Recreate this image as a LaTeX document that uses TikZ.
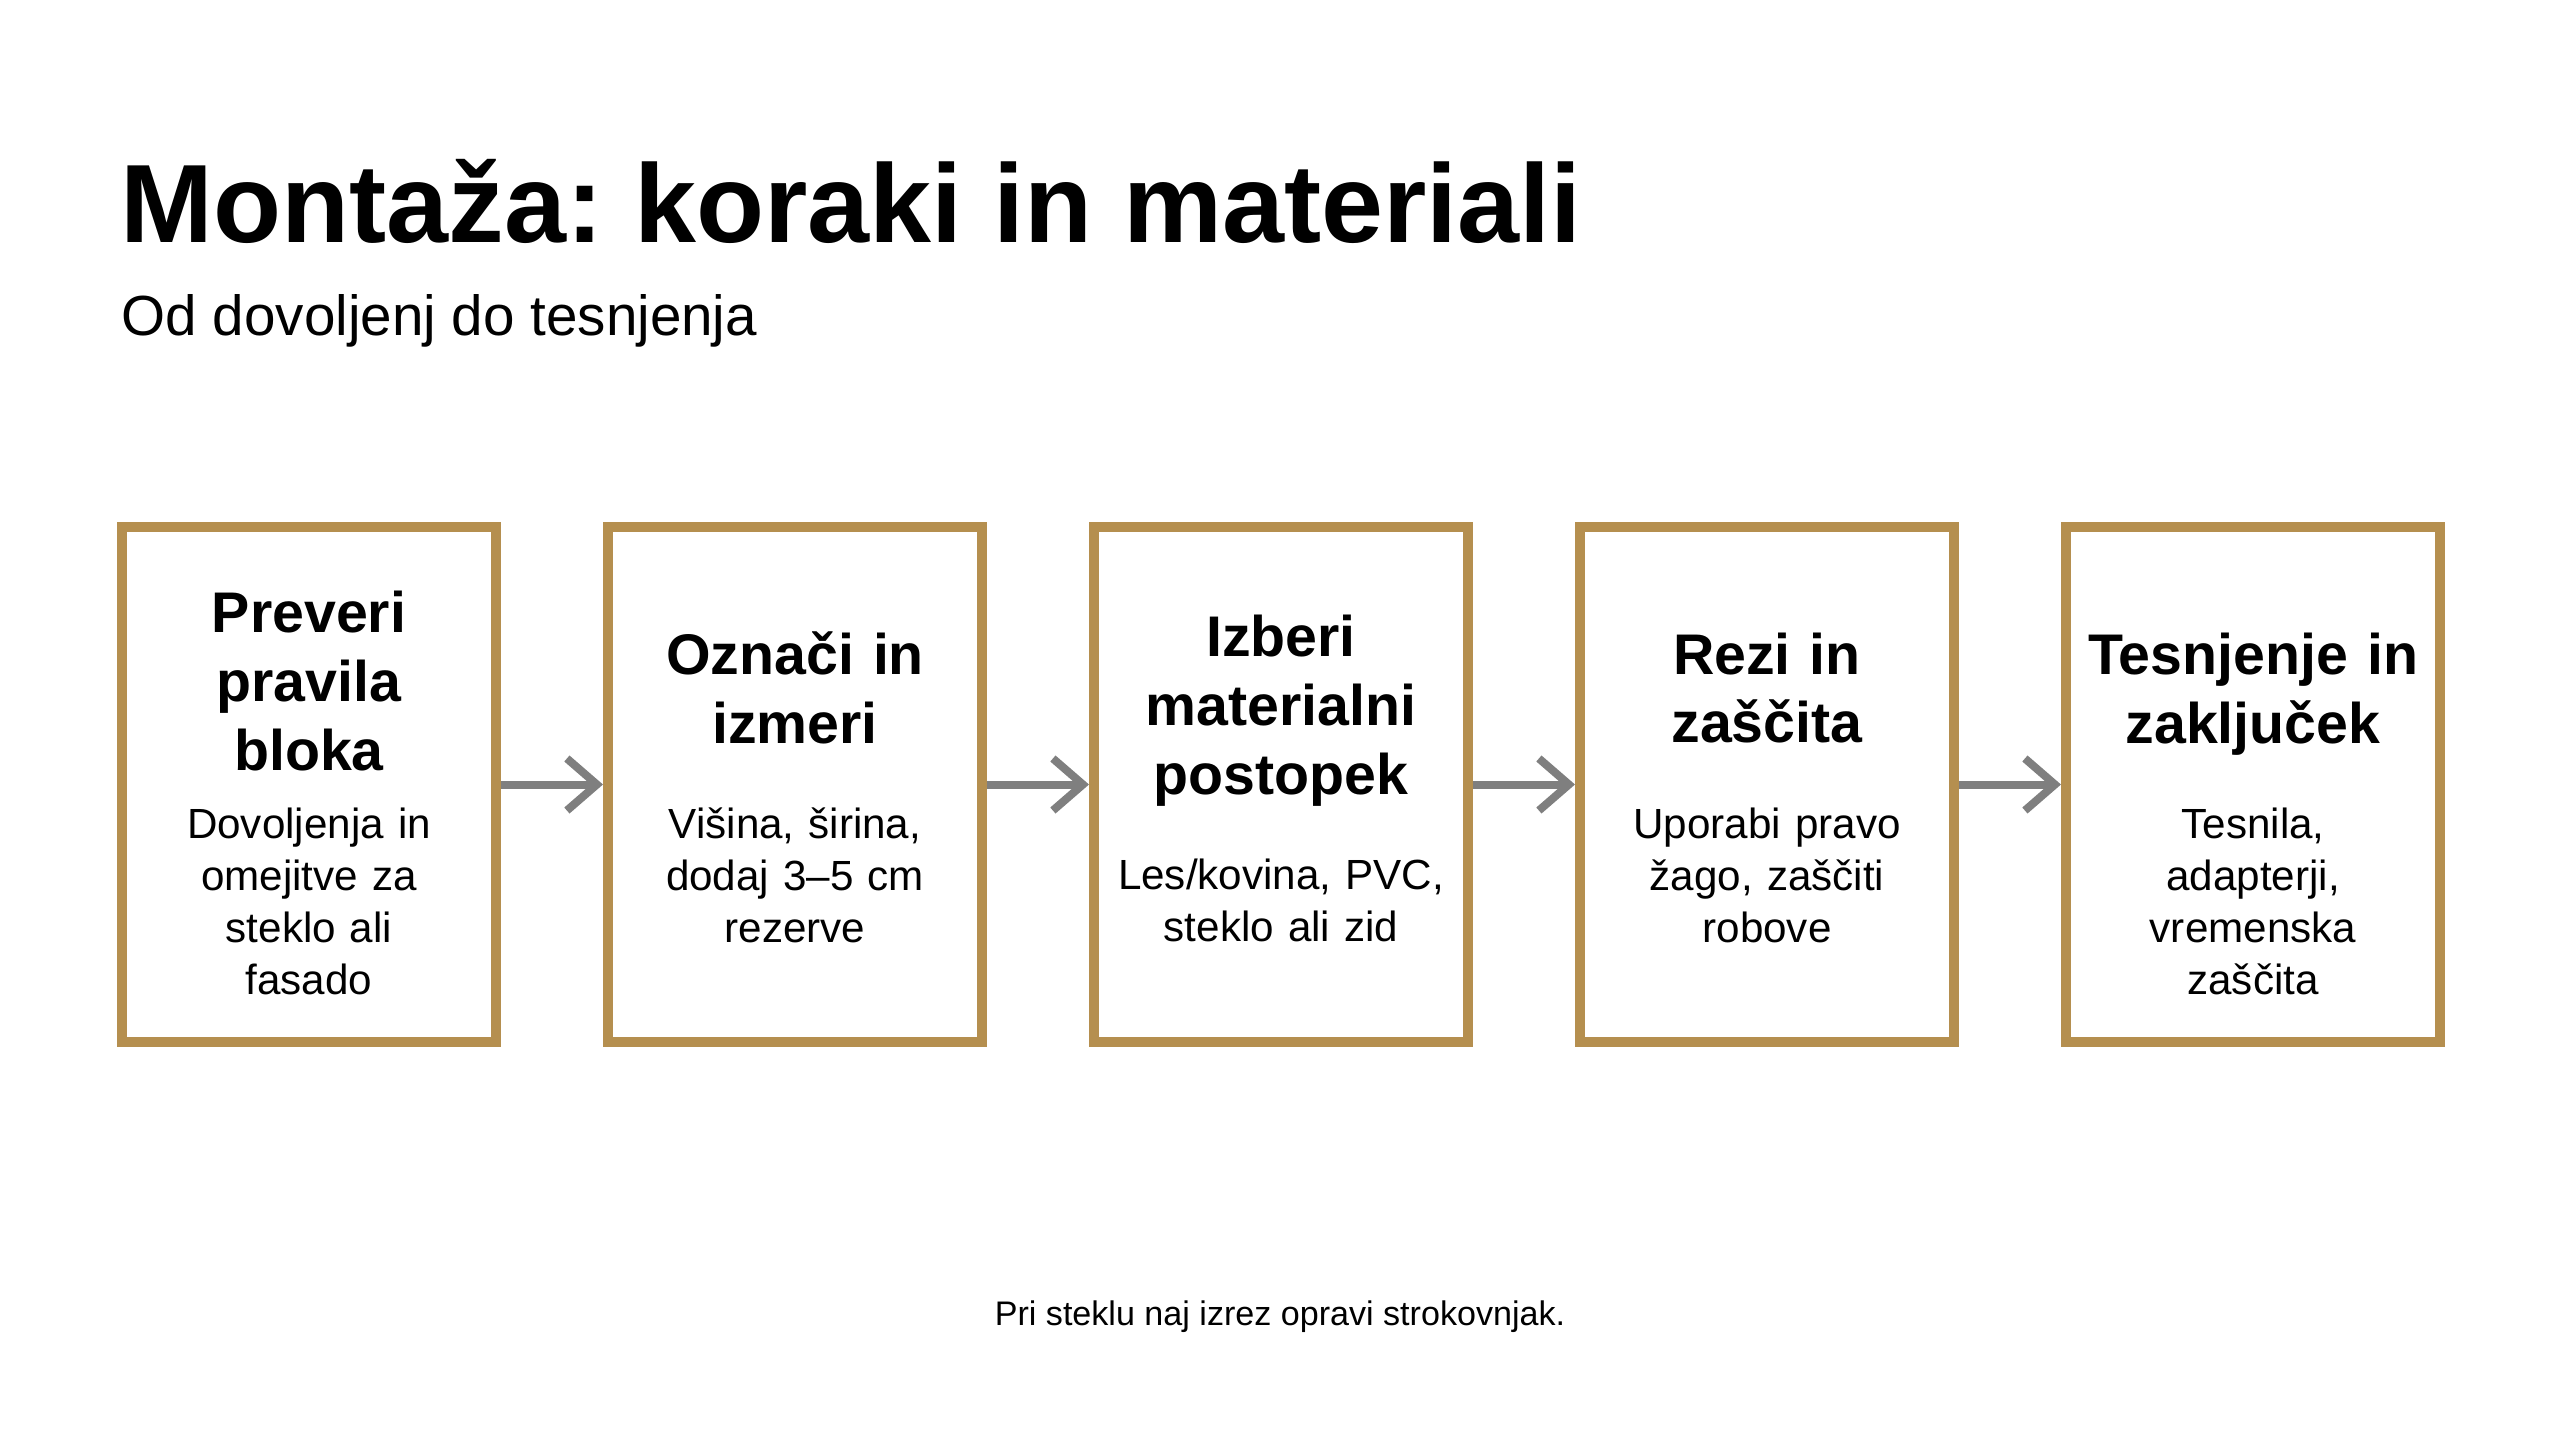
\documentclass[tikz,border=0pt]{standalone}
\usepackage{fontspec}
\setmainfont{Liberation Sans}
\usepackage{tikz}
\usetikzlibrary{arrows.meta}

\definecolor{gold}{HTML}{B58F4F}
\definecolor{arrowgray}{HTML}{7F7F7F}

\newcommand{\headfont}{\fontsize{16.3}{19.6}\selectfont\bfseries}
\newcommand{\bodyfont}{\fontsize{12}{14.8}\selectfont}
\frenchspacing

\tikzset{
    stepbox/.style={draw=gold, line width=0.1cm, fill=white, minimum width=3.74cm,
        minimum height=5.15cm, inner sep=0pt},
    stephead/.style={text width=3.6cm, align=center, inner sep=0pt, font=\headfont},
    stepbody/.style={text width=3.6cm, align=center, inner sep=0pt, font=\bodyfont},
    flow/.style={draw=arrowgray, line width=0.08cm, -{Straight Barb[length=0.3cm, width=0.52cm]}},
    label text/.style={inner sep=0pt}
}

\begin{document}
\begin{tikzpicture}
            \useasboundingbox (0,0) rectangle (25.6,-14.29);

            \node[label text, anchor=base west] (title) at (1.2, -2.42)
                {\fontsize{31.7}{38}\selectfont\bfseries Montaža: koraki in materiali};
            \node[label text, anchor=base west] (subtitle) at (1.21, -3.35)
                {\fontsize{16.1}{19}\selectfont Od dovoljenj do tesnjenja};

            % boxes
            \node (s_a) at (3.09, -7.845) [stepbox] {};
            \node (s_b) at (7.95, -7.845) [stepbox] {};
            \node (s_c) at (12.81, -7.845) [stepbox] {};
            \node (s_d) at (17.67, -7.845) [stepbox] {};
            \node (s_e) at (22.53, -7.845) [stepbox] {};

            % headings
            \node (h_a) at (3.09, -6.81) [stephead] {Preveri\\pravila\\bloka};
            \node (h_b) at (7.95, -6.88) [stephead] {Označi in\\izmeri};
            \node (h_c) at (12.81, -7.105) [stephead] {Izberi\\materialni\\postopek};
            \node (h_d) at (17.67, -6.88) [stephead] {Rezi in\\zaščita};
            \node (h_e) at (22.53, -6.945) [stephead] {Tesnjenje in\\zaključek};

            % descriptions
            \node (b_a) at (3.09, -9.01) [stepbody] {Dovoljenja in\\omejitve za\\steklo ali\\fasado};
            \node (b_b) at (7.95, -8.75) [stepbody] {Višina, širina,\\dodaj 3–5 cm\\rezerve};
            \node (b_c) at (12.81, -9.00) [stepbody] {Les/kovina, PVC,\\steklo ali zid};
            \node (b_d) at (17.67, -8.75) [stepbody] {Uporabi pravo\\žago, zaščiti\\robove};
            \node (b_e) at (22.53, -9.01) [stepbody] {Tesnila,\\adapterji,\\vremenska\\zaščita};

            \draw[flow] (s_a) -- (s_b);
            \draw[flow] (s_b) -- (s_c);
            \draw[flow] (s_c) -- (s_d);
            \draw[flow] (s_d) -- (s_e);

            \node[label text, anchor=base] (note) at (12.8, -13.25)
                {\fontsize{9.7}{12}\selectfont Pri steklu naj izrez opravi strokovnjak.};
        \end{tikzpicture}
\end{document}
